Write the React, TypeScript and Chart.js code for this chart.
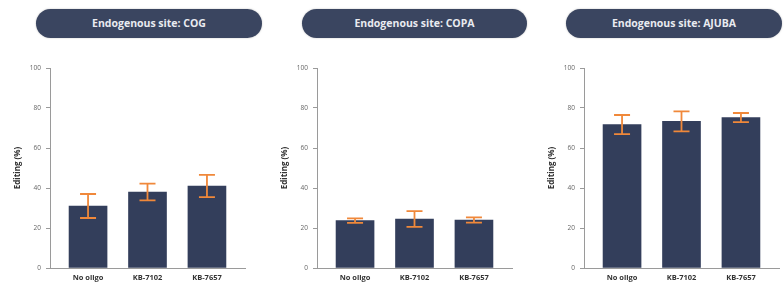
import React, { useEffect, useRef } from "react";
import { Chart, registerables } from "chart.js";

Chart.register(...registerables);

const categories = ["No oligo", "KB-7102", "KB-7657"];
const yTicks = [0, 20, 40, 60, 80, 100];
const siteTitles = ["Endogenous site: COG", "Endogenous site: COPA", "Endogenous site: AJUBA"];
const cogValues = [31, 38, 41];
const cogErrors = [6, 4.2, 5.6];
const copaValues = [23.7, 24.5, 24];
const copaErrors = [1.1, 3.9, 1.3];
const ajubaValues = [71.7, 73.3, 75.2];
const ajubaErrors = [4.8, 5, 2.3];

const panels = [
  { title: siteTitles[0], values: cogValues, errors: cogErrors },
  { title: siteTitles[1], values: copaValues, errors: copaErrors },
  { title: siteTitles[2], values: ajubaValues, errors: ajubaErrors },
];

const BAR = "#333e5b";
const ORANGE = "#f0883a";
const AXIS = "#9a9a9a";
const FONT = "'Open Sans', 'Noto Sans', sans-serif";

const errorBarPlugin = {
  id: "errorBars",
  afterDatasetsDraw(chart: any, _args: any, opts: any) {
    const errors: number[] = opts.errors || [];
    const meta = chart.getDatasetMeta(0);
    const yScale = chart.scales.y;
    const ds = chart.data.datasets[0];
    const ctx = chart.ctx;
    ctx.save();
    ctx.strokeStyle = ORANGE;
    ctx.lineWidth = 1.8;
    meta.data.forEach((el: any, i: number) => {
      const v = ds.data[i].y;
      const e = errors[i];
      const x = el.x;
      const yt = yScale.getPixelForValue(v + e);
      const yb = yScale.getPixelForValue(v - e);
      const half = 8;
      ctx.beginPath();
      ctx.moveTo(x, yt);
      ctx.lineTo(x, yb);
      ctx.moveTo(x - half, yt);
      ctx.lineTo(x + half, yt);
      ctx.moveTo(x - half, yb);
      ctx.lineTo(x + half, yb);
      ctx.stroke();
    });
    ctx.restore();
  },
};

function Panel({ values, errors, left, width, padRight }: any) {
  const ref = useRef<HTMLCanvasElement>(null);
  useEffect(() => {
    if (!ref.current) return;
    const chart = new Chart(ref.current, {
      type: "bar",
      data: {
        datasets: [
          {
            data: categories.map((_, i) => ({ x: i, y: values[i] })),
            backgroundColor: BAR,
            borderWidth: 0,
            barThickness: 38,
          },
        ],
      },
      options: {
        animation: false,
        responsive: false,
        maintainAspectRatio: false,
        layout: { padding: { top: 13, right: padRight, left: 0, bottom: 0 } },
        plugins: {
          legend: { display: false },
          tooltip: { enabled: false },
          errorBars: { errors },
        } as any,
        scales: {
          x: {
            type: "linear",
            offset: false,
            min: -0.64,
            max: 2.64,
            afterBuildTicks: (axis: any) => {
              axis.ticks = categories.map((_, i) => ({ value: i }));
            },
            afterFit: (axis: any) => {
              axis.height = 20;
            },
            grid: { display: false, offset: false, drawTicks: false },
            border: { display: true, color: AXIS, width: 1 },
            ticks: {
              padding: 5,
              color: "#333",
              font: { family: FONT, size: 7.5, weight: "bold" },
              callback: (v: any) => categories[v] ?? "",
              maxRotation: 0,
              autoSkip: false,
            },
          },
          y: {
            min: 0,
            max: 100,
            afterBuildTicks: (axis: any) => {
              axis.ticks = yTicks.map((v) => ({ value: v }));
            },
            afterFit: (axis: any) => {
              axis.width = 50;
            },
            grid: {
              display: true,
              drawOnChartArea: false,
              tickLength: 4,
              color: AXIS,
            },
            border: { display: true, color: AXIS, width: 1 },
            ticks: {
              padding: 5,
              color: "#666",
              font: { family: FONT, size: 6.5 },
            },
            title: {
              display: true,
              text: "Editing (%)",
              color: "#333",
              font: { family: FONT, size: 8, weight: "bold" },
              padding: { top: 13, bottom: 0 },
            },
          },
        },
      },
      plugins: [errorBarPlugin],
    } as any);
    return () => chart.destroy();
  }, []);
  return (
    <canvas
      ref={ref}
      width={width}
      height={233}
      style={{ position: "absolute", left, top: 55, width, height: 233 }}
    />
  );
}

const pillLefts = [36, 302, 566];
const pillWidths = [226, 225, 216];

export default function App() {
  return (
    <div
      style={{
        position: "absolute",
        left: 0,
        top: 0,
        width: 784,
        height: 288,
        overflow: "hidden",
        background: "#fff",
      }}
    >
      {panels.map((p, i) => (
        <div
          key={"t" + i}
          style={{
            position: "absolute",
            left: pillLefts[i],
            top: 9,
            width: pillWidths[i],
            height: 29,
            borderRadius: 14.5,
            background: "#3a4560",
            boxShadow: "0 0 2px rgba(0,0,0,0.25)",
            color: "#e9ebf0",
            fontFamily: FONT,
            fontWeight: 700,
            fontSize: 10.5,
            lineHeight: "29px",
            textAlign: "center",
          }}
        >
          {p.title}
        </div>
      ))}
      {panels.map((p, i) => (
        <Panel
          key={"c" + i}
          values={p.values}
          errors={p.errors}
          left={267 * i}
          width={250}
          padRight={5}
        />
      ))}
    </div>
  );
}
